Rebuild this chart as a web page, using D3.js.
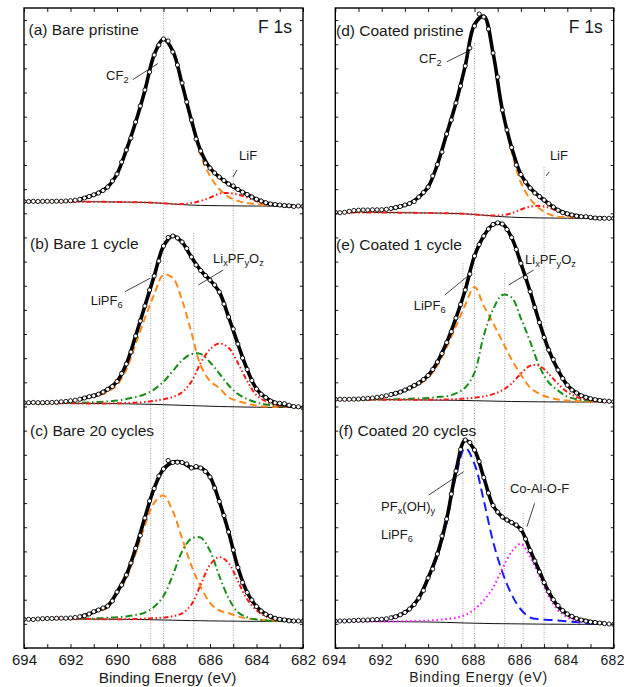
<!DOCTYPE html>
<html lang="en">
<head>
<meta charset="UTF-8">
<title>F 1s XPS spectra</title>
<style>
body {
    margin: 0;
    background-color: #fff;
    font-family: "Liberation Sans", Arial, sans-serif;
}
text {
    fill: #1a1a1a;
}
</style>
</head>
<body>
<div id="plot"></div>
<script src="https://cdn.jsdelivr.net/npm/d3@7/dist/d3.min.js"></script>
<script>

const w = 624,
      h = 687;

// binding energies: measured points every 0.2 eV, fit components every 0.4 eV
const scanEV = d3.range(6940, 6819, -2).map(d => d / 10);
const fitEV = d3.range(6940, 6819, -4).map(d => d / 10);
const tickEV = d3.range(694, 681, -1);
const labelEV = [694, 692, 690, 688, 686, 684, 682];

// (a) bare pristine
const aData = [8.5, 8.5, 8.7, 8.5, 8.6, 8.7, 8.6, 8.8, 8.7, 9.0, 9.3, 9.8, 10.7, 12, 13.5, 15.2, 17, 19.5, 23, 29,
    36, 48, 60, 72, 88, 104, 120, 138, 155, 165, 171, 169, 158, 145, 127, 108, 90, 71, 59, 47,
    42, 37, 33, 29.5, 26, 24, 20.5, 17.8, 15.5, 13, 10.8, 9, 7.3, 6, 5.5, 5, 4.5, 4.2, 3.5, 4, 3.6];
const aBg = [8.3, 8.3, 8.3, 8.3, 8.3, 8.3, 8.3, 8.2, 8.2, 8.1, 8.0, 7.9, 7.8, 7.6, 7.2, 6.7, 6.0, 5.4, 4.9, 4.6,
    4.4, 4.3, 4.2, 4.1, 4.0, 4.0, 4.0, 3.9, 3.9, 3.8, 3.8];
const aCF2 = [0.1, 0.2, 0.3, 0.4, 0.6, 1.0, 2.4, 5.3, 8.8, 15, 28, 52, 80, 112, 148, 164, 153, 120, 83, 50,
    29.6, 16.7, 9, 5, 3, 2, 1.2, 0.6, 0.3, 0.1, 0];
const aLiF = [0, 0, 0, 0, 0, 0, 0, 0, 0, 0, 0, 0, 0, 0, 0, 0, 0, 0.5, 2, 4.5,
    8, 12, 12.8, 11.4, 8.5, 4.8, 2.1, 0.7, 0.2, 0, 0];

// (b) bare 1 cycle
const bData = [9.3, 9.3, 9.5, 9.3, 9.4, 9.5, 9.6, 9.8, 10.2, 10.6, 11.2, 11.8, 12.8, 14, 15.3, 16.2, 17.8, 20, 22.7, 25.5,
    30.5, 38.5, 48, 60, 76, 91, 106, 122, 136, 151, 166, 174.5, 176, 174, 170, 163.5, 155, 147, 141.5, 136.5,
    132, 127, 120, 108, 95, 83, 68, 54, 42.5, 31.5, 23, 17.8, 14.5, 11, 9.2, 8.7, 8.3, 6.8, 5.5, 5.2, 4.3];
const bBg = [8.8, 8.8, 8.8, 8.8, 8.7, 8.7, 8.6, 8.6, 8.5, 8.4, 8.3, 8.2, 8.0, 7.8, 7.6, 7.3, 7.0, 6.7, 6.4, 6.1,
    5.8, 5.5, 5.3, 5.1, 4.9, 4.8, 4.7, 4.6, 4.6, 4.5, 4.4];
const bLiPF6 = [0.4, 0.6, 0.7, 0.8, 1.3, 2.1, 3.5, 5.7, 7.8, 11.9, 18.6, 34.2, 59.7, 86, 110, 130, 127, 105, 73, 40.4,
    25.2, 18.5, 9.2, 5.9, 3.6, 1.5, 0.8, 0.5, 0.8, 0.1, 0];
const bLixPFyOz = [0, 0, 0, 0, 0.2, 0.4, 0.7, 1, 1.5, 2.2, 3.2, 4.8, 7, 10, 15, 23, 34, 45, 51.5, 52,
    44, 33, 21.5, 13, 8, 4.8, 2.8, 1.6, 0.9, 0.5, 0.3];
const bLiF = [0, 0, 0, 0, 0, 0, 0, 0, 0, 0.2, 0.4, 0.8, 1.3, 2.2, 3.5, 5.5, 8, 13, 24, 43,
    57, 63, 59, 44, 26, 12, 6, 2.5, 1, 0.4, 0.2];

// (c) bare 20 cycles
const cData = [8.7, 8.7, 8.5, 9, 9.3, 9.5, 9.5, 9.7, 9.8, 9.8, 10, 10.5, 11.3, 12.2, 14, 16.3, 18, 20, 22, 27,
    36, 43, 53, 65, 79.7, 92.5, 110, 127, 139.5, 152, 159, 167.5, 165.5, 165.7, 165.5, 164, 160, 161.5, 160, 156.5,
    151, 140, 126.5, 112.5, 96, 78, 60.5, 45.5, 35.5, 28, 21.5, 17, 13.7, 11.8, 9.7, 8.7, 8.1, 7.2, 7, 7, 7];
const cBg = [9.0, 9.0, 9.0, 9.0, 9.0, 9.0, 8.9, 8.9, 8.8, 8.8, 8.7, 8.6, 8.5, 8.4, 8.2, 8.0, 7.8, 7.6, 7.4, 7.3,
    7.1, 7.0, 6.9, 6.8, 6.7, 6.7, 6.6, 6.6, 6.6, 6.5, 6.5];
const cLiPF6 = [0, 0, 0.3, 0.5, 0.8, 1, 2, 4.5, 8.2, 11.7, 25, 41, 66, 94, 117, 124.5, 109, 82, 55, 34,
    18, 10.5, 8.1, 4.7, 2.8, 2, 1.3, 0.8, 0.5, 0.2, 0.2];
const cLixPFyOz = [0, 0, 0, 0, 0, 0.2, 0.4, 0.6, 1, 1.5, 2, 3, 4.5, 7, 13, 24, 45, 69, 82, 83,
    70, 45, 23, 9, 4, 1.8, 0.8, 0.4, 0.2, 0, 0];
const cLiF = [0, 0, 0, 0, 0, 0, 0, 0, 0, 0, 0, 0.3, 0.6, 1, 1.6, 2.5, 4, 7, 16, 36,
    56, 64, 58, 40, 22, 11, 5, 1.9, 0.8, 0.3, 0.1];

// (d) coated pristine
const dData = [9.7, 9.3, 9.7, 10.7, 11.5, 11.8, 12, 12, 12.2, 12.2, 12.3, 12.7, 13.5, 14.5, 15.5, 17, 18.5, 20.5, 25, 29.5,
    35, 46, 57.5, 70, 88, 102, 119, 136, 156, 174, 196, 208, 205, 193, 169, 145, 112, 92, 74.5, 57,
    47.5, 40, 34, 29, 25.5, 22, 18.3, 15, 11.8, 9.5, 8.2, 7, 6, 5.3, 5.3, 4.6, 4, 3.7, 3.7, 3.7, 3.7];
const dBg = [9.5, 9.5, 9.5, 9.5, 9.5, 9.4, 9.4, 9.3, 9.2, 9.1, 9.0, 8.9, 8.7, 8.5, 8.1, 7.5, 6.8, 6.0, 5.3, 4.8,
    4.5, 4.3, 4.1, 4.0, 3.9, 3.8, 3.7, 3.6, 3.6, 3.5, 3.5];
const dCF2 = [0.2, 0.3, 0.4, 0.5, 0.7, 1.6, 4.1, 6.2, 9.3, 15.9, 26, 48.6, 79.3, 110.5, 148, 190, 199, 162.5, 105.2, 65.7,
    35, 18.7, 9.4, 3.8, 1.4, 1.4, 1.0, 0.8, 0.2, 0.2, 0.2];
const dLiF = [0, 0, 0, 0, 0, 0, 0, 0, 0, 0, 0, 0, 0, 0, 0, 0, 0, 0.5, 1.5, 4,
    8, 11, 12, 10.5, 6.5, 3, 1.5, 0.6, 0.2, 0, 0];

// (e) coated 1 cycle
const eData = [6.7, 6.7, 6.7, 6.7, 6.8, 7, 7.3, 7.7, 8, 8.7, 9.3, 10.3, 11.5, 12.7, 14, 16, 18, 20.5, 23, 26.5,
    30.5, 36.5, 44, 52.5, 63.5, 74.3, 88, 101.5, 116, 132, 150, 161.5, 170, 177, 181.5, 183.2, 182, 176.5, 168.5, 156.5,
    142.7, 128.5, 114.3, 98.5, 83.5, 68.5, 56, 46.5, 36, 27.5, 20.8, 16, 13, 10.3, 8.7, 7.3, 6.3, 5.5, 5, 4.7, 4.3];
const eBg = [6.3, 6.3, 6.3, 6.3, 6.3, 6.3, 6.3, 6.2, 6.2, 6.1, 6.0, 5.9, 5.8, 5.7, 5.5, 5.3, 5.1, 4.9, 4.7, 4.5,
    4.4, 4.3, 4.2, 4.1, 4.1, 4.0, 4.0, 4.0, 4.0, 4.0, 4.0];
const eLiPF6 = [0.4, 0.4, 0.5, 1.0, 1.7, 2.8, 4.8, 7.2, 10.8, 15.4, 22.3, 34.7, 53, 74, 95.5, 113.7, 95, 78, 60, 42,
    27, 14, 8, 4.5, 2.5, 1.5, 1, 0.5, 0.3, 0.1, 0];
const eLixPFyOz = [0, 0, 0, 0, 0, 0.2, 0.4, 0.6, 1, 1.5, 2, 3, 4, 7, 13, 28, 65.4, 91.6, 106.3, 104,
    83.3, 60, 35.3, 19.4, 11.4, 5.3, 3, 1.7, 1, 0.5, 0.1];
const eLiF = [0, 0, 0, 0, 0, 0, 0, 0, 0, 0, 0.2, 0.4, 0.7, 1.2, 2, 3, 4.5, 7, 11, 18,
    28, 36, 36, 28, 18, 10, 5, 2.5, 1, 0.4, 0.2];

// (f) coated 20 cycles
const fData = [9, 9, 9, 9.2, 9.5, 9.7, 9.8, 10, 10.3, 10.5, 10.8, 11.2, 12.2, 13.3, 15.2, 17.5, 21, 25.5, 32, 39.5,
    52, 61, 76, 94, 111, 136, 159, 180.5, 190, 187.5, 180, 168.5, 152.5, 137, 124.5, 118, 113, 110, 107.5, 105,
    100.5, 91, 79.5, 69, 58, 47.5, 38.3, 30.3, 24.5, 19.5, 16, 13.7, 11.5, 10, 9, 8, 7.5, 7, 6.5, 6, 5.7];
const fBg = [8.5, 8.5, 8.5, 8.5, 8.5, 8.4, 8.4, 8.3, 8.2, 8.1, 8.0, 7.8, 7.6, 7.3, 7.0, 6.8, 6.6, 6.4, 6.3, 6.2,
    6.1, 6.0, 5.9, 5.8, 5.8, 5.7, 5.7, 5.7, 5.6, 5.6, 5.6];
const fPFOH = [0.5, 0.5, 1, 1.3, 1.8, 2.3, 3.6, 6.5, 12.1, 22.9, 42.5, 65.9, 99.9, 146.7, 175, 159.2, 122.9, 82.1, 51.7, 29.3,
    14.4, 6.5, 4.8, 4.3, 3.8, 3.0, 2.2, 1.2, 0.7, 0.3, 0];
const fCoAlOF = [0, 0, 0, 0, 0, 0.1, 0.2, 0.4, 0.7, 1, 1.5, 2.3, 3.5, 5, 8, 14, 23, 36, 55, 72,
    80, 67, 48, 28, 14, 7, 3.5, 2.3, 1.2, 0.6, 0.3];

// ----------------------------------------------
// layout
const frameTop = 8,
      frameBottom = 648;

const cols = [
    { x: d3.scaleLinear().domain([694, 682]).range([24, 303]),
      tickFont: 15, tickSpacing: 0, tickDx: 0, tickPad: 6, titleFont: 15.4, titleSpacing: 0, titleY: 683 },
    { x: d3.scaleLinear().domain([694, 682]).range([335.3, 613.7]),
      tickFont: 14, tickSpacing: 0.4, tickDx: -1.5, tickPad: 7, titleFont: 14, titleSpacing: 0.7, titleY: 682 }
];

const styles = {
    orange:  { color: "#ff8a1c", dash: "7,4" },
    red:     { color: "#ff1a1a", dash: "5,2.5,1.5,2.5,1.5,2.5" },
    green:   { color: "#1a8c1a", dash: "7,3,1.5,3" },
    blue:    { color: "#1a1aff", dash: "9,5" },
    magenta: { color: "#ff1aff", dash: "1.6,2.8" }
};

const panels = [
    { col: 0, y0: 210, title: "(a) Bare pristine", tx: 28.5, ty: 35, data: aData, bg: aBg,
      comps: [[aCF2, "orange"], [aLiF, "red"]] },
    { col: 0, y0: 412, title: "(b) Bare 1 cycle", tx: 30, ty: 249, data: bData, bg: bBg,
      comps: [[bLiPF6, "orange"], [bLixPFyOz, "green"], [bLiF, "red"]] },
    { col: 0, y0: 628, title: "(c) Bare 20 cycles", tx: 30, ty: 436, data: cData, bg: cBg,
      comps: [[cLiPF6, "orange"], [cLixPFyOz, "green"], [cLiF, "red"]] },
    { col: 1, y0: 222, title: "(d) Coated pristine", tx: 336, ty: 35.5, data: dData, bg: dBg,
      comps: [[dCF2, "orange"], [dLiF, "red"]] },
    { col: 1, y0: 406, title: "(e) Coated 1 cycle", tx: 336, ty: 250, data: eData, bg: eBg,
      comps: [[eLiPF6, "orange"], [eLixPFyOz, "green"], [eLiF, "red"]] },
    { col: 1, y0: 630, title: "(f) Coated 20 cycles", tx: 338.5, ty: 436, data: fData, bg: fBg,
      comps: [[fPFOH, "blue"], [fCoAlOF, "magenta"]] }
];
panels.forEach(p => {
    p.x = cols[p.col].x;
    p.y = d3.scaleLinear().domain([0, 200]).range([p.y0, p.y0 - 200]);
});

// dotted guide lines: panel whose scale sets the top end (null = frame top)
const guides = [
    { p: 0, ev: 688.0, v: null }, { p: 0, ev: 685.0, v: 40 },
    { p: 1, ev: 688.55, v: 149 }, { p: 1, ev: 686.7, v: 179 },
    { p: 3, ev: 688.0, v: 179 }, { p: 3, ev: 685.0, v: 55 },
    { p: 4, ev: 688.5, v: 143 }, { p: 4, ev: 686.7, v: 133 },
    { p: 5, ev: 685.9, v: 117 }
];

const notes = [
    { p: 0, ev: 690.47, v: 130, parts: [["CF"], ["2", 1]], line: [[689.31, 130.5], [688.24, 146.5]] },
    { p: 0, ev: 684.75, v: 50, parts: [["LiF"]], line: [[684.84, 40], [685.01, 33]] },
    { p: 1, ev: 691.13, v: 107, parts: [["LiPF"], ["6", 1]], line: [[689.66, 120.3], [688.58, 133.7]] },
    { p: 1, ev: 685.87, v: 148.7, parts: [["Li"], ["x", 1], ["PF"], ["y", 1], ["O"], ["z", 1]], line: [[685.43, 142], [686.5, 127]] },
    { p: 3, ev: 690.39, v: 159, parts: [["CF"], ["2", 1]], line: [[689.19, 160.3], [688.18, 172]] },
    { p: 3, ev: 684.75, v: 62, parts: [["LiF"]], line: [[684.78, 50.3], [684.91, 46]] },
    { p: 4, ev: 690.62, v: 96, parts: [["LiPF"], ["6", 1]], line: [[689.28, 111], [688.32, 129.3]] },
    { p: 4, ev: 685.82, v: 142, parts: [["Li"], ["x", 1], ["PF"], ["y", 1], ["O"], ["z", 1]], line: [[685.45, 136], [686.53, 121]] },
    { p: 5, ev: 692.03, v: 119, parts: [["PF"], ["x", 1], ["(OH)"], ["y", 1]], line: [[689.97, 135], [688.47, 158.3]] },
    { p: 5, ev: 692.03, v: 91, parts: [["LiPF"], ["6", 1]] },
    { p: 5, ev: 686.47, v: 137, parts: [["Co-Al-O-F"]], line: [[685.41, 126.7], [685.74, 103.3]] }
];

// ----------------------------------------------
const plot = d3.select("#plot").append("svg")
    .attr("width", w)
    .attr("height", h);

const yFrame = d3.scaleLinear().domain([0, 26.5]).range([frameBottom, frameTop]);

cols.forEach((c, i) => {
    const [x0, x1] = c.x.range();
    plot.append("clipPath").attr("id", "clip" + i)
        .append("rect")
        .attr("x", x0).attr("y", frameTop)
        .attr("width", x1 - x0).attr("height", frameBottom - frameTop);
});

const layers = cols.map((c, i) => plot.append("g").attr("clip-path", `url(#clip${i})`));

// guides
guides.forEach(g => {
    const p = panels[g.p];
    layers[p.col].append("line")
        .attr("x1", p.x(g.ev)).attr("x2", p.x(g.ev))
        .attr("y1", g.v === null ? frameTop : p.y(g.v))
        .attr("y2", frameBottom)
        .attr("stroke", "#8a8a8a")
        .attr("stroke-width", 0.8)
        .attr("stroke-dasharray", "1,1.5");
});

// spectra
panels.forEach(p => {
    const g = layers[p.col];
    const line = d3.line()
        .x(d => p.x(d[0]))
        .y(d => p.y(d[1]))
        .curve(d3.curveCatmullRom);

    g.append("path")
        .attr("d", line(fitEV.map((e, i) => [e, p.bg[i]])))
        .attr("fill", "none")
        .attr("stroke", "#111")
        .attr("stroke-width", 1);

    p.comps.forEach(([vals, key]) => {
        g.append("path")
            .attr("d", line(fitEV.map((e, i) => [e, p.bg[i] + vals[i]])))
            .attr("fill", "none")
            .attr("stroke", styles[key].color)
            .attr("stroke-width", 2)
            .attr("stroke-dasharray", styles[key].dash);
    });

    const fit = fitEV.map((e, i) => [e, p.bg[i] + d3.sum(p.comps, c => c[0][i])]);
    g.append("path")
        .attr("d", line(fit.filter(d => d[0] <= 691.8 && d[0] >= 682.4)))
        .attr("fill", "none")
        .attr("stroke", "#000")
        .attr("stroke-width", 3.6)
        .attr("stroke-linejoin", "round");

    g.selectAll(null)
        .data(scanEV.map((e, i) => [e, p.data[i]]))
        .join("circle")
        .attr("cx", d => p.x(d[0]))
        .attr("cy", d => p.y(d[1]))
        .attr("r", 2.1)
        .attr("fill", "#fff")
        .attr("stroke", "#000")
        .attr("stroke-width", 0.9);

    plot.append("text")
        .attr("x", p.tx).attr("y", p.ty)
        .attr("font-size", 15.5)
        .text(p.title);
});

// annotations
function richText(sel, parts) {
    let shift = 0;
    parts.forEach(([t, sub]) => {
        const want = sub ? 3 : 0;
        sel.append("tspan")
            .attr("dy", want - shift)
            .attr("font-size", sub ? "0.72em" : null)
            .text(t);
        shift = want;
    });
}

notes.forEach(n => {
    const p = panels[n.p];
    richText(plot.append("text")
        .attr("x", p.x(n.ev)).attr("y", p.y(n.v))
        .attr("font-size", 13), n.parts);
    if (n.line) {
        plot.append("line")
            .attr("x1", p.x(n.line[0][0])).attr("y1", p.y(n.line[0][1]))
            .attr("x2", p.x(n.line[1][0])).attr("y2", p.y(n.line[1][1]))
            .attr("stroke", "#111")
            .attr("stroke-width", 0.8);
    }
});

// frames and axes
cols.forEach(c => {
    const [x0, x1] = c.x.range();

    const bottomAxis = plot.append("g")
        .attr("transform", `translate(0,${frameBottom})`)
        .call(d3.axisBottom(c.x).tickValues(tickEV)
            .tickSizeInner(-4).tickSizeOuter(0).tickPadding(c.tickPad));
    bottomAxis.selectAll(".tick text")
        .filter(d => !labelEV.includes(d))
        .remove();
    bottomAxis.selectAll(".tick text")
        .attr("font-size", c.tickFont)
        .attr("font-family", "Liberation Sans, Arial, sans-serif")
        .attr("letter-spacing", c.tickSpacing)
        .attr("dx", c.tickDx)
        .attr("fill", "#1a1a1a");

    plot.append("g")
        .attr("transform", `translate(0,${frameTop})`)
        .call(d3.axisTop(c.x).tickValues(tickEV).tickSizeInner(-4).tickSizeOuter(0).tickFormat(""));

    plot.append("g")
        .attr("transform", `translate(${x0},0)`)
        .call(d3.axisLeft(yFrame).ticks(26).tickSizeInner(-3).tickSizeOuter(0).tickFormat(""));
    plot.append("g")
        .attr("transform", `translate(${x1},0)`)
        .call(d3.axisRight(yFrame).ticks(26).tickSizeInner(-3).tickSizeOuter(0).tickFormat(""));

    plot.append("rect")
        .attr("x", x0).attr("y", frameTop)
        .attr("width", x1 - x0).attr("height", frameBottom - frameTop)
        .attr("fill", "none")
        .attr("stroke", "#000")
        .attr("stroke-width", 1.4);

    plot.append("text")
        .attr("x", x1 - 45).attr("y", 33)
        .attr("font-size", 17.5)
        .text("F 1s");

    plot.append("text")
        .attr("x", (x0 + x1) / 2 + 4).attr("y", c.titleY)
        .attr("text-anchor", "middle")
        .attr("font-size", c.titleFont)
        .attr("letter-spacing", c.titleSpacing)
        .text("Binding Energy (eV)");
});

plot.selectAll(".domain").remove();
plot.selectAll(".tick line").attr("stroke", "#000").attr("stroke-width", 0.9);

</script>
</body>
</html>
